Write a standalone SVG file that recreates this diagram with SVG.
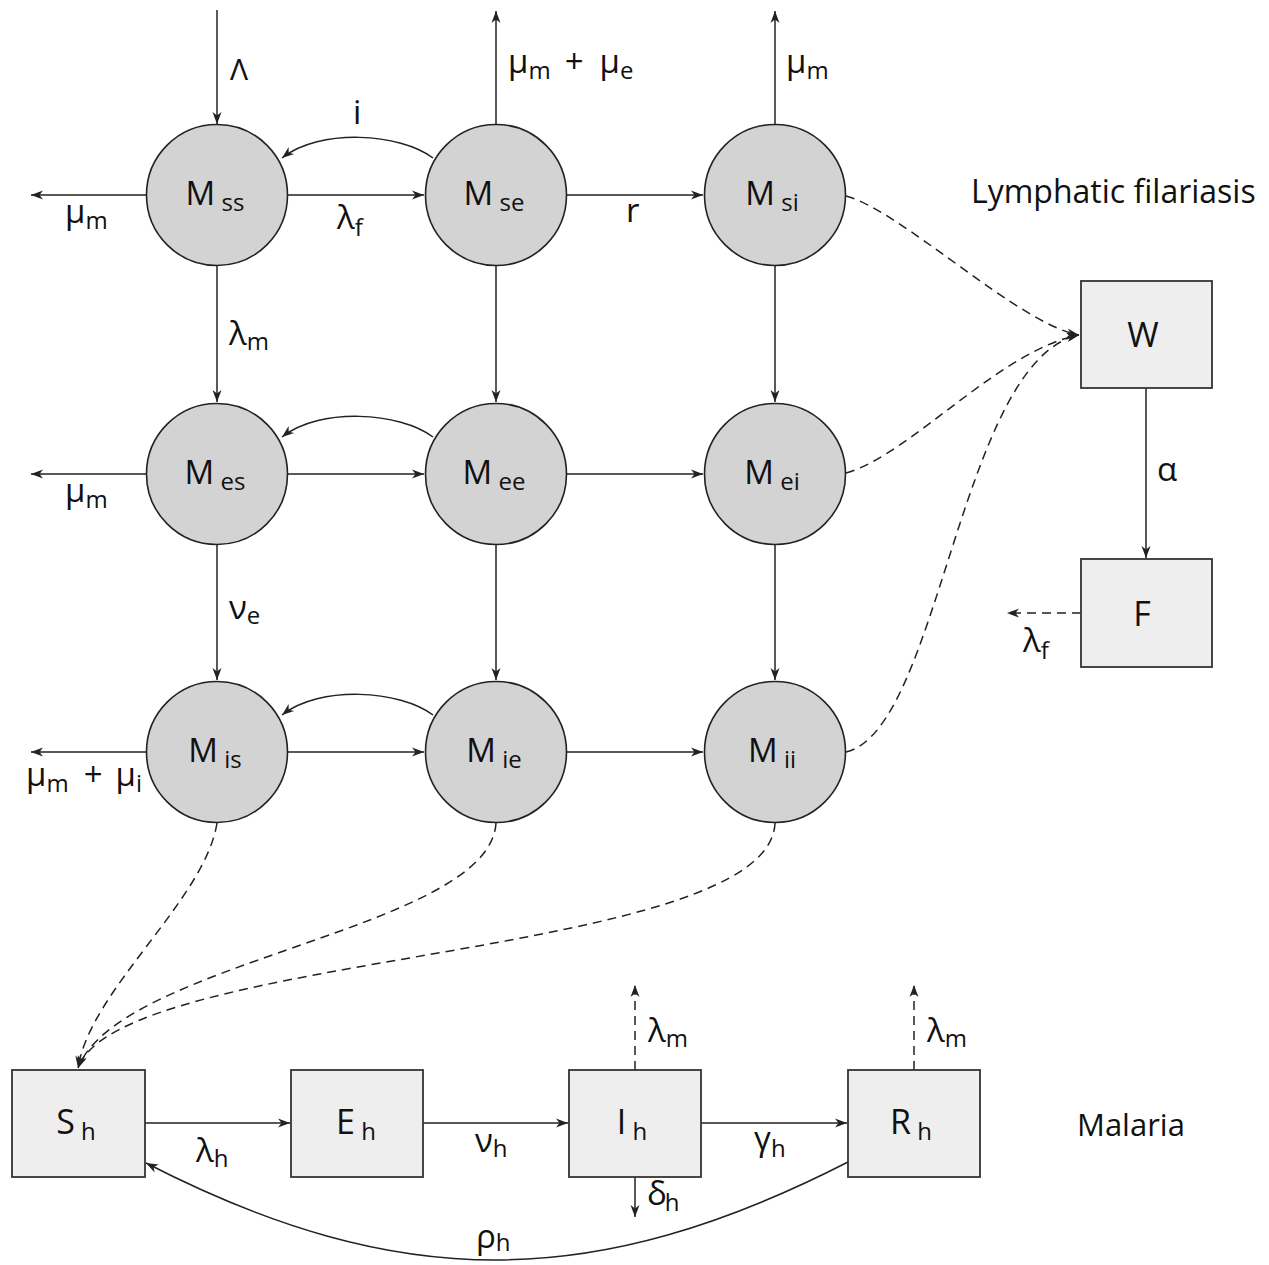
<svg xmlns="http://www.w3.org/2000/svg" width="1269" height="1265" viewBox="0 0 1269 1265">
<style>
.bg{fill:#ffffff}
.circ{fill:#d3d3d3;stroke:#222;stroke-width:1.6}
.box{fill:#eeeeee;stroke:#333;stroke-width:1.8}
.ln{fill:none;stroke:#222;stroke-width:1.5}
.dash{fill:none;stroke:#222;stroke-width:1.5;stroke-dasharray:9 6}
.t{font-family:"Open Sans","Noto Sans",sans-serif;font-size:33px;fill:#111}
.n{font-family:"Open Sans","Noto Sans",sans-serif;font-size:33px;fill:#111;text-anchor:middle}
.b{font-family:"Open Sans","Noto Sans",sans-serif;font-size:34px;fill:#111;text-anchor:middle}
.s{font-size:24px}
</style>
<defs>
<marker id="ah" markerUnits="userSpaceOnUse" markerWidth="16" markerHeight="12" viewBox="-13 -6 16 12" refX="0" refY="0" orient="auto" overflow="visible">
<path d="M0,0 L-12,-4.5 L-8.5,0 L-12,4.5 Z" fill="#222"/>
</marker>
</defs>
<rect class="bg" x="0" y="0" width="1269" height="1265"/>

<g id="connectors">
<line class="ln" x1="217" y1="10" x2="217" y2="124" marker-end="url(#ah)"/>
<line class="ln" x1="496" y1="124" x2="496" y2="11" marker-end="url(#ah)"/>
<line class="ln" x1="775" y1="124" x2="775" y2="11" marker-end="url(#ah)"/>
<line class="ln" x1="146" y1="195" x2="31" y2="195" marker-end="url(#ah)"/>
<line class="ln" x1="146" y1="474" x2="31" y2="474" marker-end="url(#ah)"/>
<line class="ln" x1="146" y1="752" x2="31" y2="752" marker-end="url(#ah)"/>
<line class="ln" x1="288" y1="195" x2="424" y2="195" marker-end="url(#ah)"/>
<line class="ln" x1="567" y1="195" x2="703" y2="195" marker-end="url(#ah)"/>
<line class="ln" x1="288" y1="474" x2="424" y2="474" marker-end="url(#ah)"/>
<line class="ln" x1="567" y1="474" x2="703" y2="474" marker-end="url(#ah)"/>
<line class="ln" x1="288" y1="752" x2="424" y2="752" marker-end="url(#ah)"/>
<line class="ln" x1="567" y1="752" x2="703" y2="752" marker-end="url(#ah)"/>
<line class="ln" x1="217" y1="266" x2="217" y2="402" marker-end="url(#ah)"/>
<line class="ln" x1="496" y1="266" x2="496" y2="402" marker-end="url(#ah)"/>
<line class="ln" x1="775" y1="266" x2="775" y2="402" marker-end="url(#ah)"/>
<line class="ln" x1="217" y1="545" x2="217" y2="680" marker-end="url(#ah)"/>
<line class="ln" x1="496" y1="545" x2="496" y2="680" marker-end="url(#ah)"/>
<line class="ln" x1="775" y1="545" x2="775" y2="680" marker-end="url(#ah)"/>
<path class="ln" d="M433,158 C400,133 320,128 282,158" marker-end="url(#ah)"/>
<path class="ln" d="M433,437 C400,412 320,407 282,437" marker-end="url(#ah)"/>
<path class="ln" d="M433,715 C400,690 320,685 282,715" marker-end="url(#ah)"/>
<path class="dash" d="M846,196 C900,210 1020,325 1079,335" marker-end="url(#ah)"/>
<path class="dash" d="M846,473 C910,455 1000,350 1079,335" marker-end="url(#ah)"/>
<path class="dash" d="M846,752 C940,730 960,360 1079,335" marker-end="url(#ah)"/>
<line class="ln" x1="1146" y1="388" x2="1146" y2="558" marker-end="url(#ah)"/>
<line class="dash" x1="1081" y1="613" x2="1007" y2="613" marker-end="url(#ah)"/>
<path class="dash" d="M217,823 C205,900 90,990 78,1068" marker-end="url(#ah)"/>
<path class="dash" d="M496,823 C490,930 120,960 78,1068" marker-end="url(#ah)"/>
<path class="dash" d="M775,823 C770,960 120,950 78,1068" marker-end="url(#ah)"/>
<line class="ln" x1="145" y1="1123" x2="290" y2="1123" marker-end="url(#ah)"/>
<line class="ln" x1="423" y1="1123" x2="568" y2="1123" marker-end="url(#ah)"/>
<line class="ln" x1="701" y1="1123" x2="847" y2="1123" marker-end="url(#ah)"/>
<line class="dash" x1="635" y1="1070" x2="635" y2="985" marker-end="url(#ah)"/>
<line class="dash" x1="914" y1="1070" x2="914" y2="985" marker-end="url(#ah)"/>
<line class="ln" x1="635" y1="1177" x2="635" y2="1217" marker-end="url(#ah)"/>
<path class="ln" d="M848,1162 C594,1292 399,1293 146,1163" marker-end="url(#ah)"/>
</g>

<g id="n-Mss"><circle class="circ" cx="217" cy="195" r="70.5"/><text class="n" x="215" y="205">M<tspan class="s" dy="6"> ss</tspan></text></g>
<g id="n-Mse"><circle class="circ" cx="496" cy="195" r="70.5"/><text class="n" x="494" y="205">M<tspan class="s" dy="6"> se</tspan></text></g>
<g id="n-Msi"><circle class="circ" cx="775" cy="195" r="70.5"/><text class="n" x="772" y="205">M<tspan class="s" dy="6"> si</tspan></text></g>
<g id="n-Mes"><circle class="circ" cx="217" cy="474" r="70.5"/><text class="n" x="215" y="484">M<tspan class="s" dy="6"> es</tspan></text></g>
<g id="n-Mee"><circle class="circ" cx="496" cy="474" r="70.5"/><text class="n" x="494" y="484">M<tspan class="s" dy="6"> ee</tspan></text></g>
<g id="n-Mei"><circle class="circ" cx="775" cy="474" r="70.5"/><text class="n" x="772" y="484">M<tspan class="s" dy="6"> ei</tspan></text></g>
<g id="n-Mis"><circle class="circ" cx="217" cy="752" r="70.5"/><text class="n" x="215" y="762">M<tspan class="s" dy="6"> is</tspan></text></g>
<g id="n-Mie"><circle class="circ" cx="496" cy="752" r="70.5"/><text class="n" x="494" y="762">M<tspan class="s" dy="6"> ie</tspan></text></g>
<g id="n-Mii"><circle class="circ" cx="775" cy="752" r="70.5"/><text class="n" x="772" y="762">M<tspan class="s" dy="6"> ii</tspan></text></g>

<g id="n-W"><rect class="box" x="1081" y="281" width="131" height="107"/><text class="b" x="1143" y="347">W</text></g>
<g id="n-F"><rect class="box" x="1081" y="559" width="131" height="108"/><text class="b" x="1142" y="626">F</text></g>

<g id="n-Sh"><rect class="box" x="12" y="1070" width="133" height="107"/><text class="b" x="76" y="1134">S<tspan class="s" dy="6"> h</tspan></text></g>
<g id="n-Eh"><rect class="box" x="291" y="1070" width="132" height="107"/><text class="b" x="356" y="1134">E<tspan class="s" dy="6"> h</tspan></text></g>
<g id="n-Ih"><rect class="box" x="569" y="1070" width="132" height="107"/><text class="b" x="632" y="1134">I<tspan class="s" dy="6"> h</tspan></text></g>
<g id="n-Rh"><rect class="box" x="848" y="1070" width="132" height="107"/><text class="b" x="911" y="1134">R<tspan class="s" dy="6"> h</tspan></text></g>

<g id="labels">
<text class="t" x="230" y="80" style="font-size:30px">Λ</text>
<text class="t" x="353" y="124">i</text>
<text class="t" x="337" y="229">λ<tspan class="s" dy="7">f</tspan></text>
<text class="t" x="65" y="223">μ<tspan class="s" dy="6">m</tspan></text>
<text class="t" x="626" y="222">r</text>
<text class="t" x="508" y="73">μ<tspan class="s" dy="6">m</tspan><tspan dy="-6" dx="14">+</tspan><tspan dx="16">μ</tspan><tspan class="s" dy="6">e</tspan></text>
<text class="t" x="786" y="73">μ<tspan class="s" dy="6">m</tspan></text>
<text class="t" x="229" y="345">λ<tspan class="s" dy="5">m</tspan></text>
<text class="t" x="65" y="502">μ<tspan class="s" dy="6">m</tspan></text>
<text class="t" x="229" y="619">ν<tspan class="s" dy="5">e</tspan></text>
<text class="t" x="26" y="786">μ<tspan class="s" dy="6">m</tspan><tspan dy="-6" dx="15">+</tspan><tspan dx="13">μ</tspan><tspan class="s" dy="6">i</tspan></text>
<text class="t" x="1157" y="481">α</text>
<text class="t" x="1023" y="652">λ<tspan class="s" dy="7">f</tspan></text>
<text class="t" x="971" y="203" style="font-size:32px">Lymphatic filariasis</text>
<text class="t" x="196" y="1162">λ<tspan class="s" dy="5">h</tspan></text>
<text class="t" x="475" y="1152">ν<tspan class="s" dy="5">h</tspan></text>
<text class="t" x="754" y="1150">γ<tspan class="s" dy="7">h</tspan></text>
<text class="t" x="648" y="1042">λ<tspan class="s" dy="5">m</tspan></text>
<text class="t" x="927" y="1042">λ<tspan class="s" dy="5">m</tspan></text>
<text class="t" x="647" y="1205">δ<tspan class="s" dy="6" dx="-2">h</tspan></text>
<text class="t" x="476" y="1248">ρ<tspan class="s" dy="3">h</tspan></text>
<text class="t" x="1077" y="1136" style="font-size:31px">Malaria</text>
</g>
</svg>
